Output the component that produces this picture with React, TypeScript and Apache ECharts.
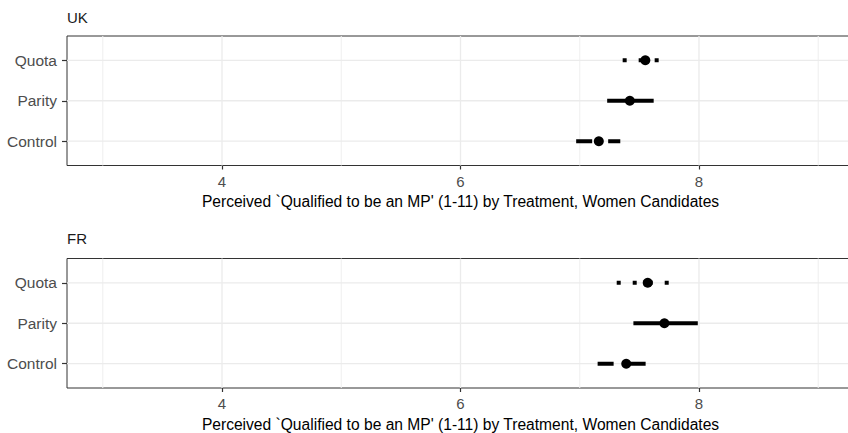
import React, { useEffect, useRef } from "react";
import * as echarts from "echarts";

const categories = ["Control", "Parity", "Quota"];
const ukMean = [7.16, 7.42, 7.55];
const ukLow = [6.97, 7.23, 7.36];
const ukHigh = [7.34, 7.62, 7.68];
const frMean = [7.39, 7.71, 7.57];
const frLow = [7.15, 7.45, 7.31];
const frHigh = [7.57, 7.99, 7.76];
const xMajor = [4, 6, 8];
const xMinor = [3, 5, 7, 9];
const panels = ["UK", "FR"];
const axisTitle = "Perceived `Qualified to be an MP' (1-11) by Treatment, Women Candidates";

const FONT = "'Liberation Sans', Arial, Helvetica, sans-serif";
const dashes: Record<string, number[] | null> = {
  Control: [16, 16],
  Parity: null,
  Quota: [4, 12],
};

export default function App() {
  const ref = useRef<HTMLDivElement>(null);
  useEffect(() => {
    if (!ref.current) return;
    const chart = echarts.init(ref.current, null, { renderer: "svg" });
    const gridTops = [36, 258.5];
    const gridBottoms = [267.5, 45];

    const grids = panels.map((_, i) => ({
      left: 67,
      right: -6,
      top: gridTops[i],
      bottom: gridBottoms[i],
      outerBoundsMode: "none",
      show: true,
      backgroundColor: "#FFFFFF",
      borderColor: "#333333",
      borderWidth: 1,
      containLabel: false,
    }));

    const xAxes = panels.map((_, i) => ({
      type: "value",
      gridIndex: i,
      min: 2.7,
      max: 9.3,
      splitLine: { show: false },
      axisLine: { show: false },
      axisTick: {
        show: true,
        customValues: xMajor,
        length: 4,
        lineStyle: { color: "#333333", width: 1.2 },
      },
      axisLabel: {
        customValues: xMajor,
        formatter: (v: number) => (xMajor.indexOf(v) >= 0 ? String(v) : ""),
        color: "#4D4D4D",
        fontSize: 15,
        fontFamily: FONT,
        margin: 8,
      },
      name: axisTitle,
      nameLocation: "middle",
      nameGap: 28,
      nameTextStyle: { color: "#000000", fontSize: 15.6, fontFamily: FONT },
    }));

    const yAxes = panels.map((_, i) => ({
      type: "value",
      gridIndex: i,
      min: 0.4,
      max: 3.6,
      splitLine: { show: false },
      axisLine: { show: false },
      axisTick: {
        show: true,
        customValues: [1, 2, 3],
        length: 5,
        lineStyle: { color: "#333333", width: 1.2 },
      },
      axisLabel: {
        customValues: [1, 2, 3],
        formatter: (v: number) => categories[Math.round(v) - 1] ?? "",
        color: "#4D4D4D",
        fontSize: 15.5,
        fontFamily: FONT,
        margin: 10,
      },
    }));

    const gridLineSeries = (i: number) => ({
      type: "custom",
      xAxisIndex: i,
      yAxisIndex: i,
      z: 1,
      silent: true,
      encode: { x: 0, y: 1 },
      data: [
        ...xMinor.map((v) => [v, 2, 0, 0]),
        ...xMajor.map((v) => [v, 2, 0, 1]),
        ...[1, 2, 3].map((c) => [5, c, 1, 1]),
      ],
      renderItem: (params: any, api: any) => {
        const cs = params.coordSys;
        const p = api.coord([api.value(0), api.value(1)]);
        const horizontal = api.value(2) === 1;
        const major = api.value(3) === 1;
        const shape = horizontal
          ? { x1: cs.x, y1: p[1], x2: cs.x + cs.width, y2: p[1] }
          : { x1: p[0], y1: cs.y, x2: p[0], y2: cs.y + cs.height };
        return {
          type: "line",
          shape,
          style: { stroke: major ? "#EBEBEB" : "#F0F0F0", lineWidth: major ? 1.3 : 1.1 },
        };
      },
    });

    const errorSeries = (i: number, lo: number[], hi: number[]) => ({
      type: "custom",
      xAxisIndex: i,
      yAxisIndex: i,
      z: 3,
      encode: { x: [0, 1], y: 2 },
      data: categories.map((_, k) => [lo[k], hi[k], k + 1]),
      renderItem: (params: any, api: any) => {
        const y = api.value(2);
        const a = api.coord([api.value(0), y]);
        const b = api.coord([api.value(1), y]);
        const d = dashes[categories[Math.round(y) - 1]];
        return {
          type: "line",
          shape: { x1: a[0], y1: a[1], x2: b[0], y2: b[1] },
          style: {
            stroke: "#000000",
            lineWidth: 4,
            lineDash: d || undefined,
            lineCap: "butt",
          },
        };
      },
    });

    const pointSeries = (i: number, m: number[]) => ({
      type: "scatter",
      xAxisIndex: i,
      yAxisIndex: i,
      z: 4,
      symbol: "circle",
      symbolSize: 10,
      itemStyle: { color: "#000000", opacity: 1 },
      data: categories.map((_, k) => [m[k], k + 1]),
    });

    chart.setOption({
      animation: false,
      textStyle: { fontFamily: FONT },
      title: panels.map((p, i) => ({
        text: p,
        left: 67,
        top: [10, 231][i],
        padding: 0,
        textStyle: { fontSize: 15, fontWeight: "normal", color: "#1A1A1A", fontFamily: FONT },
      })),
      grid: grids,
      xAxis: xAxes,
      yAxis: yAxes,
      series: [
        gridLineSeries(0),
        gridLineSeries(1),
        errorSeries(0, ukLow, ukHigh),
        errorSeries(1, frLow, frHigh),
        pointSeries(0, ukMean),
        pointSeries(1, frMean),
      ],
    });
    return () => chart.dispose();
  }, []);
  return (
    <div
      ref={ref}
      style={{ position: "fixed", left: 0, top: 0, width: 848, height: 433, background: "#fff" }}
    />
  );
}
